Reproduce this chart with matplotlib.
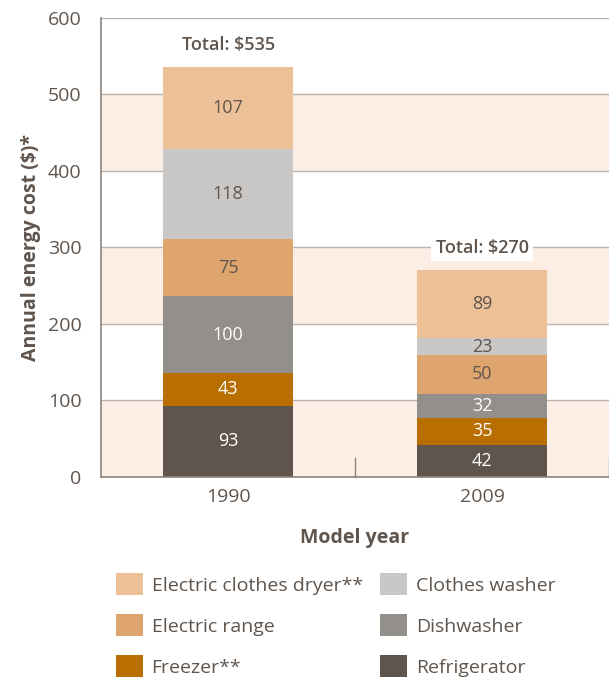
import matplotlib.pyplot as plt
import numpy as np
from matplotlib.patches import Patch

plt.rcParams['font.family'] = ['Open Sans', 'DejaVu Sans']

years = ["1990", "2009"]
totals = [535, 270]
appliances = ["Refrigerator", "Freezer**", "Dishwasher", "Electric range",
              "Clothes washer", "Electric clothes dryer**"]
refrigerator = [93, 42]
freezer = [43, 35]
dishwasher = [100, 32]
electric_range = [75, 50]
clothes_washer = [118, 23]
clothes_dryer = [107, 89]

series = [refrigerator, freezer, dishwasher, electric_range, clothes_washer, clothes_dryer]
colors = ["#5F554D", "#B96E00", "#938F8A", "#DFA56E", "#C9C8C6", "#EDC198"]
label_colors = ["white", "white", "white", "#5F554D", "#5F554D", "#5F554D"]
txt = "#5F554D"

fig = plt.figure(figsize=(6.09, 6.81), dpi=100)
ax = fig.add_axes([0.166, 0.2996, 0.834, 0.674])

# alternating bands
for lo in range(0, 600, 200):
    ax.axhspan(lo, lo + 100, color="#FCEEE5", zorder=0, lw=0)
for y in range(100, 700, 100):
    ax.axhline(y, color="#B9B3AE", lw=1, zorder=1)

x = np.arange(len(years))
bottom = np.zeros(len(years))
for vals, c, lc in zip(series, colors, label_colors):
    vals = np.array(vals)
    ax.bar(x, vals, width=0.51, bottom=bottom, color=c, zorder=2, lw=0)
    for xi, b, v in zip(x, bottom, vals):
        ax.text(xi, b + v / 2, str(v), ha="center", va="center",
                color=lc, fontsize=13, zorder=3)
    bottom += vals

ax.text(0, 565, "Total: $535", ha="center", va="center", color=txt,
        fontsize=13, fontweight="semibold", zorder=3,
        bbox=dict(facecolor="white", edgecolor="none", pad=3))
ax.text(1, 299, "Total: $270", ha="center", va="center", color=txt,
        fontsize=13, fontweight="semibold", zorder=3,
        bbox=dict(facecolor="white", edgecolor="none", pad=3))

ax.set_xlim(-0.5, 1.5)
ax.set_ylim(0, 600)
ax.set_yticks(range(0, 700, 100))
ax.set_xticks(x)
ax.set_xticklabels(years)
ax.tick_params(axis="y", length=0, labelsize=14, labelcolor=txt, pad=14)
ax.tick_params(axis="x", length=0, labelsize=14, labelcolor=txt, pad=8)
for xs in [0.5, 1.5]:
    ax.plot([xs, xs], [0, 25], color="#8C837C", lw=1, zorder=2, clip_on=False)

for s in ["top", "right"]:
    ax.spines[s].set_visible(False)
for s in ["left", "bottom"]:
    ax.spines[s].set_color("#8C837C")
    ax.spines[s].set_linewidth(1.2)

ax.set_ylabel("Annual energy cost ($)*", fontsize=14, fontweight="bold",
              color=txt, labelpad=5)
ax.set_xlabel("Model year", fontsize=14, fontweight="bold", color=txt, labelpad=16)

order = [5, 3, 1, 4, 2, 0]
handles = [Patch(facecolor=colors[i], edgecolor="none") for i in order]
labels = [appliances[i] for i in order]
fig.legend(handles, labels, ncol=2, loc="upper left", bbox_to_anchor=(0.177, 0.17),
           frameon=False, fontsize=14, labelcolor=txt, handlelength=1.4,
           handleheight=1.4, handletextpad=0.45, columnspacing=0.9, labelspacing=0.95,
           borderaxespad=0)

fig.savefig("out.png", dpi=100)
